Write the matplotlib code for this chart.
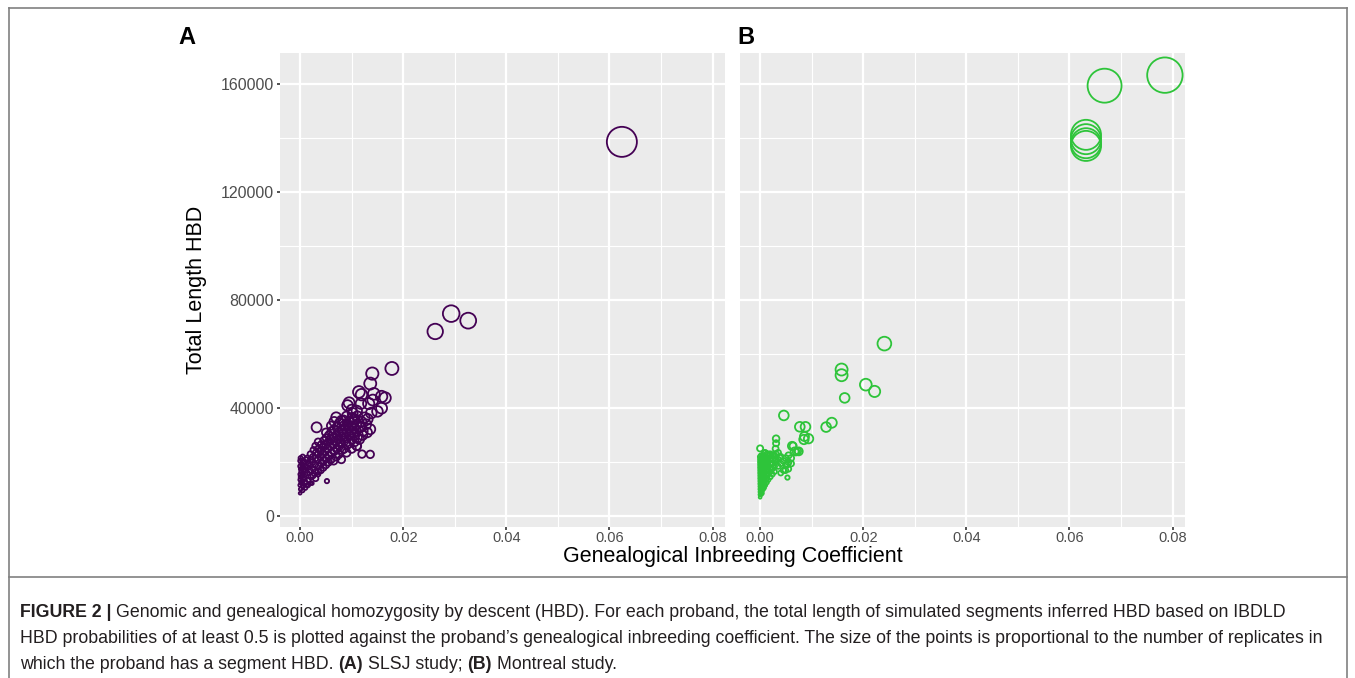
import matplotlib
matplotlib.use("Agg")
import matplotlib.pyplot as plt
from matplotlib import font_manager
from matplotlib.lines import Line2D

# --- data: panel A (SLSJ) -------------------------------------------------
a_x = [
    0.0624, 0.0262, 0.0293, 0.0326, 0.0178, 0.0140, 0.0136, 0.0114, 0.0119, 0.0143,
    0.0158, 0.0165, 0.0095, 0.0092, 0.0118, 0.0133, 0.0141, 0.0158, 0.0138, 0.0110,
    0.0102, 0.0070, 0.0066, 0.0084, 0.0105, 0.0125, 0.0150, 0.0032, 0.0136, 0.0128,
    0.0118, 0.0122, 0.0136, 0.0110,
    0.0000, 0.0001, 0.0000, 0.0002, 0.0000, 0.0001, 0.0000, 0.0002, 0.0001, 0.0000, 0.0002, 0.0000, 0.0001,
    0.0005, 0.0006, 0.0004, 0.0005, 0.0006, 0.0004, 0.0005, 0.0006, 0.0004, 0.0005, 0.0006, 0.0005,
    0.0010, 0.0011, 0.0009, 0.0010, 0.0011, 0.0010, 0.0009, 0.0011,
    0.0015, 0.0016, 0.0014, 0.0015, 0.0016, 0.0014,
    0.0020, 0.0021, 0.0019, 0.0020, 0.0021, 0.0020,
    0.0025, 0.0026, 0.0024, 0.0025, 0.0026,
    0.0030, 0.0031, 0.0029, 0.0030, 0.0031, 0.0030,
    0.0035, 0.0036, 0.0034, 0.0035, 0.0036, 0.0035,
    0.0040, 0.0041, 0.0039, 0.0040, 0.0041,
    0.0045, 0.0046, 0.0044, 0.0045, 0.0046,
    0.0052, 0.0050, 0.0051, 0.0049, 0.0050, 0.0051, 0.0050,
    0.0055, 0.0056, 0.0054, 0.0055, 0.0056,
    0.0060, 0.0061, 0.0059, 0.0060, 0.0061, 0.0060,
    0.0065, 0.0066, 0.0064, 0.0065, 0.0066,
    0.0070, 0.0071, 0.0069, 0.0070, 0.0071,
    0.0075, 0.0076, 0.0074, 0.0075, 0.0076,
    0.0080, 0.0081, 0.0079, 0.0080, 0.0081, 0.0080,
    0.0085, 0.0086, 0.0084, 0.0085,
    0.0090, 0.0091, 0.0089, 0.0090, 0.0091, 0.0090,
    0.0095, 0.0096, 0.0094, 0.0095,
    0.0100, 0.0101, 0.0099, 0.0100, 0.0101, 0.0100,
    0.0105, 0.0106, 0.0104, 0.0105,
    0.0110, 0.0111, 0.0109, 0.0110, 0.0111,
    0.0115, 0.0116,
    0.0120, 0.0121, 0.0119,
    0.0130, 0.0131,
    0.0013, 0.0023, 0.0035,
]
a_y = [
    138600, 68400, 75000, 72400, 54700, 52800, 49100, 46000, 45000, 45300,
    44300, 43800, 42000, 41000, 41700, 41700, 43000, 40000, 38200, 39000,
    38200, 36600, 35000, 35500, 36000, 36500, 38800, 32900, 32200, 34000,
    33000, 31500, 22900, 26000,
    8500, 10000, 11500, 12500, 13500, 14500, 15500, 16500, 17500, 18500, 19500, 20500, 21500,
    9500, 11000, 12000, 13000, 14000, 15000, 16000, 17000, 18000, 19000, 20000, 22000,
    10500, 12500, 14000, 15500, 17000, 18500, 20000, 21000,
    11500, 13500, 16000, 18000, 19500, 21500,
    12200, 14500, 17000, 19000, 21000, 23000,
    15000, 17500, 20000, 22000, 24500,
    14000, 16500, 19000, 21500, 23500, 26000,
    16500, 18500, 21000, 23000, 25000, 27500,
    17000, 19500, 22000, 24000, 26500,
    18000, 20500, 23000, 25500, 28000,
    13000, 19000, 21500, 24000, 26500, 29000, 31000,
    20000, 22500, 25000, 27500, 30000,
    21000, 23500, 26000, 28500, 31500, 33500,
    20500, 24000, 26500, 29000, 32000,
    22000, 25000, 27500, 30000, 33000,
    23000, 26000, 28500, 31000, 34500,
    21000, 24500, 27000, 29500, 32000, 35500,
    25000, 28000, 30500, 33500,
    23500, 26500, 29000, 31500, 34000, 37000,
    27000, 30000, 32500, 35000,
    25000, 28500, 31000, 33500, 36500, 39500,
    27500, 30000, 32500, 35000,
    26000, 29000, 31500, 34000, 37000,
    28500, 33000,
    23000, 30000, 35000,
    31000, 36000,
    11500, 12200, 15500,
]
a_rep = [
    720, 190, 220, 200, 135, 120, 115, 110, 105, 110,
    105, 100, 95, 90, 90, 100, 95, 95, 90, 85,
    80, 80, 70, 75, 80, 85, 90, 80, 80, 80,
    70, 70, 45, 55,
    6, 10, 10, 12, 10, 12, 10, 12, 10, 12, 10, 12, 14,
    10, 12, 12, 14, 12, 14, 12, 14, 12, 14, 14, 16,
    14, 14, 16, 14, 16, 16, 18, 18,
    16, 18, 18, 20, 20, 22,
    10, 20, 22, 22, 24, 26,
    22, 24, 26, 28, 30,
    25, 26, 28, 30, 32, 35,
    28, 28, 30, 32, 34, 38,
    30, 32, 34, 36, 38,
    33, 35, 38, 40, 42,
    15, 36, 38, 40, 44, 46, 50,
    40, 42, 44, 46, 50,
    42, 44, 46, 48, 52, 55,
    45, 46, 48, 52, 55,
    48, 50, 52, 55, 58,
    50, 52, 55, 58, 62,
    45, 52, 55, 58, 60, 65,
    55, 58, 60, 64,
    50, 58, 60, 62, 66, 70,
    60, 62, 64, 68,
    55, 62, 64, 66, 70, 75,
    65, 66, 68, 72,
    60, 68, 70, 72, 78,
    70, 74,
    45, 72, 76,
    75, 80,
    8, 10, 15,
]

# --- data: panel B (Montreal) ---------------------------------------------
b_x = [
    0.0785, 0.0668, 0.0632, 0.0632, 0.0632, 0.0632,
    0.0241, 0.0158, 0.0158, 0.0164, 0.0205, 0.0222, 0.0139, 0.0128, 0.0088, 0.0077,
    0.0085, 0.0094, 0.0086, 0.0046, 0.0062, 0.0067, 0.0075, 0.0053,
    0.0031, 0.0031, 0.0030, 0.0031, 0.0030, 0.0000, 0.0009, 0.0064, 0.0070, 0.0073,
    0.0038, 0.0053, 0.0049,
    0.0000, 0.0000, 0.0000, 0.0000, 0.0000, 0.0000, 0.0000, 0.0000,
    0.0000, 0.0000, 0.0000, 0.0000, 0.0000, 0.0000, 0.0000, 0.0000,
    0.0002, 0.0002, 0.0002, 0.0002, 0.0002, 0.0002, 0.0002, 0.0002,
    0.0002, 0.0002, 0.0002, 0.0002, 0.0002, 0.0002, 0.0002,
    0.0004, 0.0004, 0.0004, 0.0004, 0.0004, 0.0004, 0.0004, 0.0004,
    0.0004, 0.0004, 0.0004, 0.0004, 0.0004, 0.0004,
    0.0006, 0.0006, 0.0006, 0.0006, 0.0006, 0.0006, 0.0006,
    0.0006, 0.0006, 0.0006, 0.0006, 0.0006, 0.0006,
    0.0008, 0.0008, 0.0008, 0.0008, 0.0008, 0.0008, 0.0008, 0.0008, 0.0008,
    0.0008, 0.0008, 0.0008,
    0.0010, 0.0010, 0.0010, 0.0010, 0.0010, 0.0010, 0.0010, 0.0010, 0.0010,
    0.0013, 0.0013, 0.0013, 0.0013, 0.0013, 0.0013, 0.0013, 0.0013,
    0.0016, 0.0016, 0.0016, 0.0016, 0.0016, 0.0016, 0.0016,
    0.0020, 0.0020, 0.0020, 0.0020, 0.0020, 0.0020,
    0.0024, 0.0024, 0.0024, 0.0024, 0.0024,
    0.0028, 0.0028, 0.0028, 0.0028,
    0.0035, 0.0035, 0.0035,
    0.0040, 0.0040, 0.0040,
    0.0045, 0.0045,
    0.0050, 0.0050,
    0.0055, 0.0055, 0.0055,
    0.0060, 0.0060,
]
b_y = [
    163300, 159400, 141200, 139600, 138100, 137100,
    63900, 54300, 52200, 43800, 48700, 46200, 34600, 33000, 33100, 33100,
    28400, 28700, 29500, 37300, 26000, 24000, 24000, 14300,
    28700, 27000, 25000, 23000, 21000, 25100, 23500, 26000, 23750, 24100,
    21800, 19200, 17000,
    7000, 8000, 9000, 10000, 11000, 12000, 13000, 14000,
    15000, 16000, 17000, 18000, 19000, 20000, 21000, 22000,
    8000, 9000, 10000, 11000, 12000, 13000, 14000, 15000,
    16000, 17000, 18000, 19000, 20000, 21000, 22500,
    8500, 9500, 10500, 11500, 12500, 13500, 14500, 15500,
    16500, 17500, 18500, 19500, 20500, 21500,
    10000, 11000, 12000, 13000, 14000, 15000, 16000,
    17000, 18000, 19000, 20000, 21000, 22500,
    10500, 11500, 12500, 13500, 14500, 15500, 16500, 17500, 18500,
    19500, 20500, 22000,
    11500, 13000, 14500, 16000, 17500, 19000, 20500, 22000, 23500,
    12500, 14000, 15500, 17000, 18500, 20000, 21500, 23000,
    13500, 15500, 17000, 18500, 20000, 21500, 23000,
    14500, 16500, 18000, 19500, 21000, 23000,
    15500, 17500, 19500, 21000, 22500,
    16500, 18500, 20500, 22500,
    18500, 21000, 23500,
    16000, 19500, 22000,
    17000, 20500,
    19000, 21500,
    17500, 20000, 22500,
    19500, 21500,
]
b_rep = [
    1000, 920, 720, 720, 720, 720,
    150, 115, 115, 75, 110, 100, 80, 75, 75, 75,
    70, 70, 65, 75, 55, 50, 50, 15,
    35, 30, 28, 26, 24, 30, 24, 40, 35, 35,
    25, 28, 26,
    6, 8, 8, 9, 9, 10, 10, 11,
    11, 12, 12, 13, 13, 14, 14, 16,
    8, 9, 9, 10, 10, 11, 11, 12,
    12, 13, 13, 14, 14, 15, 16,
    9, 10, 10, 11, 11, 12, 12, 13,
    13, 14, 14, 15, 15, 16,
    10, 11, 11, 12, 12, 13, 14,
    14, 15, 15, 16, 17, 18,
    10, 11, 12, 13, 14, 15, 16, 17, 18,
    18, 19, 20,
    12, 13, 14, 15, 16, 18, 19, 20, 22,
    13, 14, 15, 16, 18, 19, 20, 22,
    14, 15, 16, 18, 20, 21, 22,
    15, 16, 18, 20, 22, 24,
    16, 18, 20, 22, 24,
    18, 20, 22, 24,
    22, 24, 26,
    20, 24, 26,
    22, 26,
    24, 28,
    24, 28, 30,
    28, 30,
]

x_ticks = [0.00, 0.02, 0.04, 0.06, 0.08]
x_tick_labels = ["0.00", "0.02", "0.04", "0.06", "0.08"]
y_ticks = [0, 40000, 80000, 120000, 160000]
y_tick_labels = ["0", "40000", "80000", "120000", "160000"]

purple = "#440154"
green = "#2ec43a"

W, H = 1355, 678
fig = plt.figure(figsize=(W / 100, H / 100), dpi=100)
fig.patch.set_facecolor("white")

names = {f.name for f in font_manager.fontManager.ttflist}
plot_font = "Liberation Sans" if "Liberation Sans" in names else "DejaVu Sans"
cap_font = "Liberation Sans Narrow" if "Liberation Sans Narrow" in names else plot_font


def px_axes(left, right, top, bottom):
    return fig.add_axes([left / W, 1 - bottom / H, (right - left) / W, (bottom - top) / H])


def style_panel(ax, show_y):
    ax.set_facecolor("#EBEBEB")
    for sp in ax.spines.values():
        sp.set_visible(False)
    ax.set_xlim(-0.0039, 0.0824)
    ax.set_ylim(-4000, 171500)
    ax.set_xticks(x_ticks)
    ax.set_xticklabels(x_tick_labels)
    ax.set_xticks([0.01, 0.03, 0.05, 0.07], minor=True)
    ax.set_yticks(y_ticks)
    ax.set_yticks([20000, 60000, 100000, 140000], minor=True)
    ax.grid(which="major", color="white", linewidth=1.6)
    ax.grid(which="minor", color="white", linewidth=0.8)
    ax.set_axisbelow(True)
    ax.tick_params(which="major", length=2.5, width=1.2, color="#333333",
                   labelcolor="#4D4D4D", labelsize=10.5, pad=0.5)
    ax.tick_params(axis="y", which="major", labelsize=11.5, pad=2)
    ax.tick_params(which="minor", length=0)
    if show_y:
        ax.set_yticklabels(y_tick_labels)
    else:
        ax.tick_params(axis="y", which="major", length=0, labelleft=False)
    for lab in ax.get_xticklabels() + ax.get_yticklabels():
        lab.set_family(plot_font)


ax_a = px_axes(280, 725, 53, 527)
ax_b = px_axes(740, 1185, 53, 527)
style_panel(ax_a, True)
style_panel(ax_b, False)

size_scale = 0.65
ax_a.scatter(a_x, a_y, s=[r * size_scale for r in a_rep], facecolors="none",
             edgecolors=purple, linewidths=1.3, zorder=3)
ax_b.scatter(b_x, b_y, s=[r * size_scale for r in b_rep], facecolors="none",
             edgecolors=green, linewidths=1.3, zorder=3)

# panel letters and axis titles
fig.text(178 / W, 1 - 44 / H, "A", fontsize=17, weight="bold", family=plot_font)
fig.text(737 / W, 1 - 44 / H, "B", fontsize=17, weight="bold", family=plot_font)
fig.text(196 / W, 1 - 290 / H, "Total Length HBD", rotation=90, fontsize=15.5,
         ha="center", va="center", family=plot_font)
fig.text(733 / W, 1 - 562 / H, "Genealogical Inbreeding Coefficient", fontsize=15.5,
         ha="center", va="baseline", family=plot_font)

# frame around the figure and separator above the caption
frame_kw = dict(transform=fig.transFigure, color="#808080", linewidth=1.2)
fig.add_artist(Line2D([9 / W, 9 / W], [0, 1 - 8 / H], **frame_kw))
fig.add_artist(Line2D([9 / W, 1347 / W], [1 - 8 / H, 1 - 8 / H], **frame_kw))
fig.add_artist(Line2D([1347 / W, 1347 / W], [0, 1 - 8 / H], **frame_kw))
fig.add_artist(Line2D([9 / W, 1347 / W], [1 - 577 / H, 1 - 577 / H], **frame_kw))

# caption with bold runs
caption = [
    [("FIGURE 2 |", "bold"), ("Genomic and genealogical homozygosity by descent (HBD). For each proband, "
                              "the total length of simulated segments inferred HBD based on IBDLD", "normal")],
    [("HBD probabilities of at least 0.5 is plotted against the proband\u2019s genealogical inbreeding "
      "coefficient. The size of the points is proportional to the number of replicates in", "normal")],
    [("which the proband has a segment HBD.", "normal"), ("(A)", "bold"), ("SLSJ study;", "normal"),
     ("(B)", "bold"), ("Montreal study.", "normal")],
]
renderer = fig.canvas.get_renderer()


def text_w(s, fs, weight):
    t = fig.text(0, 0, s, fontsize=fs, weight=weight, family=cap_font)
    w = t.get_window_extent(renderer).width
    t.remove()
    return w


fs = 14
w2 = text_w(caption[1][0][0], fs, "normal")
fs = fs * (1334 - 20) / w2
space = text_w("a a", fs, "normal") - text_w("aa", fs, "normal")

baselines = [617, 643, 669]
for runs, base in zip(caption, baselines):
    x = 20
    for txt, weight in runs:
        t = fig.text(x / W, 1 - base / H, txt, fontsize=fs, weight=weight,
                     family=cap_font, va="baseline", ha="left", color="#231f20")
        x += t.get_window_extent(renderer).width + space

fig.savefig("out.png", dpi=100)
